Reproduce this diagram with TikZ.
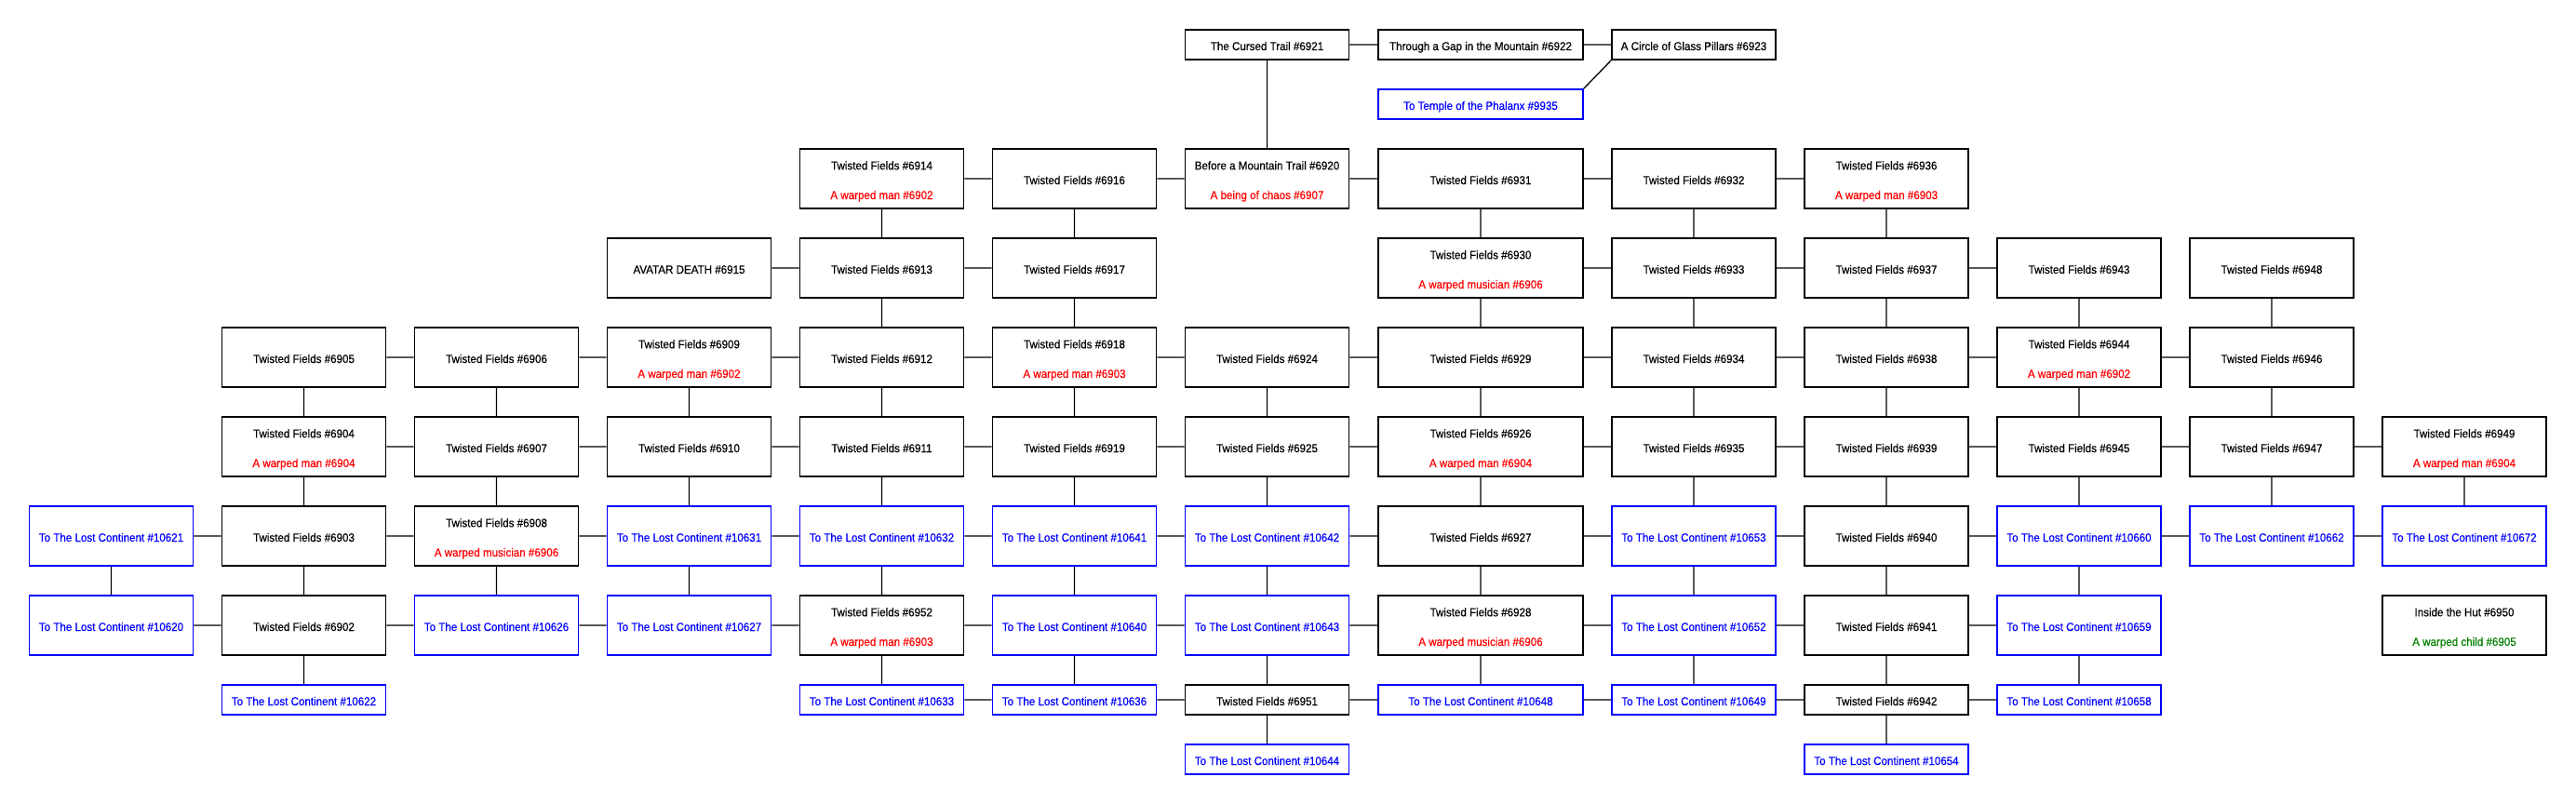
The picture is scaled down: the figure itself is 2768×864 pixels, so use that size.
\documentclass[tikz,border=0pt]{standalone}
\usepackage{fontspec}
\setmainfont{Liberation Sans}[FakeStretch=0.92, FakeBold=0.5]
\definecolor{linkblue}{RGB}{0,0,255}
\definecolor{monred}{RGB}{255,0,0}
\definecolor{npcgreen}{RGB}{0,128,0}
\tikzset{
  room/.style={draw=black, line width=1.7pt, minimum width=176pt, minimum height=64pt, inner sep=0pt, fill=white},
  link/.style={room, draw=linkblue},
  small/.style={minimum height=32pt},
  wide/.style={minimum width=220pt},
  lbl/.style={anchor=base, inner sep=0pt, font=\fontsize{12.6}{15}\selectfont},
  conn/.style={draw=black, line width=1.3pt}
}
% single-line room: name, x, y, style, colour, text
\newcommand{\rone}[6]{%
  \node[#4] (#1) at (#2,#3) {};
  \node[lbl, text=#5] (#1t) at ([yshift=-6pt]#1.center) {#6};}
% two-line room: name, x, y, style, line1, colour2, line2
\newcommand{\rtwo}[7]{%
  \node[#4] (#1) at (#2,#3) {};
  \node[lbl, text=black] (#1a) at ([yshift=9.7pt]#1.center) {#5};
  \node[lbl, text=#6] (#1b) at ([yshift=-22pt]#1.center) {#7};}
\begin{document}
\begin{tikzpicture}[x=1pt, y=-1pt]
\useasboundingbox[fill=white] (0,0) rectangle (2768,864);
% row 0
\rone{n6921}{1361.5}{48}{room,small}{black}{The Cursed Trail \#6921}
\rone{n6922}{1591}{48}{room,small,wide}{black}{Through a Gap in the Mountain \#6922}
\rone{n6923}{1820}{48}{room,small}{black}{A Circle of Glass Pillars \#6923}
\rone{l9935}{1591}{112}{link,small,wide}{linkblue}{To Temple of the Phalanx \#9935}
% row 1
\rtwo{n6914}{947.5}{192}{room}{Twisted Fields \#6914}{monred}{A warped man \#6902}
\rone{n6916}{1154.5}{192}{room}{black}{Twisted Fields \#6916}
\rtwo{n6920}{1361.5}{192}{room}{Before a Mountain Trail \#6920}{monred}{A being of chaos \#6907}
\rone{n6931}{1591}{192}{room,wide}{black}{Twisted Fields \#6931}
\rone{n6932}{1820}{192}{room}{black}{Twisted Fields \#6932}
\rtwo{n6936}{2027}{192}{room}{Twisted Fields \#6936}{monred}{A warped man \#6903}
% row 2
\rone{n6915}{740.5}{288}{room}{black}{AVATAR DEATH \#6915}
\rone{n6913}{947.5}{288}{room}{black}{Twisted Fields \#6913}
\rone{n6917}{1154.5}{288}{room}{black}{Twisted Fields \#6917}
\rtwo{n6930}{1591}{288}{room,wide}{Twisted Fields \#6930}{monred}{A warped musician \#6906}
\rone{n6933}{1820}{288}{room}{black}{Twisted Fields \#6933}
\rone{n6937}{2027}{288}{room}{black}{Twisted Fields \#6937}
\rone{n6943}{2234}{288}{room}{black}{Twisted Fields \#6943}
\rone{n6948}{2441}{288}{room}{black}{Twisted Fields \#6948}
% row 3
\rone{n6905}{326.5}{384}{room}{black}{Twisted Fields \#6905}
\rone{n6906}{533.5}{384}{room}{black}{Twisted Fields \#6906}
\rtwo{n6909}{740.5}{384}{room}{Twisted Fields \#6909}{monred}{A warped man \#6902}
\rone{n6912}{947.5}{384}{room}{black}{Twisted Fields \#6912}
\rtwo{n6918}{1154.5}{384}{room}{Twisted Fields \#6918}{monred}{A warped man \#6903}
\rone{n6924}{1361.5}{384}{room}{black}{Twisted Fields \#6924}
\rone{n6929}{1591}{384}{room,wide}{black}{Twisted Fields \#6929}
\rone{n6934}{1820}{384}{room}{black}{Twisted Fields \#6934}
\rone{n6938}{2027}{384}{room}{black}{Twisted Fields \#6938}
\rtwo{n6944}{2234}{384}{room}{Twisted Fields \#6944}{monred}{A warped man \#6902}
\rone{n6946}{2441}{384}{room}{black}{Twisted Fields \#6946}
% row 4
\rtwo{n6904}{326.5}{480}{room}{Twisted Fields \#6904}{monred}{A warped man \#6904}
\rone{n6907}{533.5}{480}{room}{black}{Twisted Fields \#6907}
\rone{n6910}{740.5}{480}{room}{black}{Twisted Fields \#6910}
\rone{n6911}{947.5}{480}{room}{black}{Twisted Fields \#6911}
\rone{n6919}{1154.5}{480}{room}{black}{Twisted Fields \#6919}
\rone{n6925}{1361.5}{480}{room}{black}{Twisted Fields \#6925}
\rtwo{n6926}{1591}{480}{room,wide}{Twisted Fields \#6926}{monred}{A warped man \#6904}
\rone{n6935}{1820}{480}{room}{black}{Twisted Fields \#6935}
\rone{n6939}{2027}{480}{room}{black}{Twisted Fields \#6939}
\rone{n6945}{2234}{480}{room}{black}{Twisted Fields \#6945}
\rone{n6947}{2441}{480}{room}{black}{Twisted Fields \#6947}
\rtwo{n6949}{2648}{480}{room}{Twisted Fields \#6949}{monred}{A warped man \#6904}
% row 5
\rone{l10621}{119.5}{576}{link}{linkblue}{To The Lost Continent \#10621}
\rone{n6903}{326.5}{576}{room}{black}{Twisted Fields \#6903}
\rtwo{n6908}{533.5}{576}{room}{Twisted Fields \#6908}{monred}{A warped musician \#6906}
\rone{l10631}{740.5}{576}{link}{linkblue}{To The Lost Continent \#10631}
\rone{l10632}{947.5}{576}{link}{linkblue}{To The Lost Continent \#10632}
\rone{l10641}{1154.5}{576}{link}{linkblue}{To The Lost Continent \#10641}
\rone{l10642}{1361.5}{576}{link}{linkblue}{To The Lost Continent \#10642}
\rone{n6927}{1591}{576}{room,wide}{black}{Twisted Fields \#6927}
\rone{l10653}{1820}{576}{link}{linkblue}{To The Lost Continent \#10653}
\rone{n6940}{2027}{576}{room}{black}{Twisted Fields \#6940}
\rone{l10660}{2234}{576}{link}{linkblue}{To The Lost Continent \#10660}
\rone{l10662}{2441}{576}{link}{linkblue}{To The Lost Continent \#10662}
\rone{l10672}{2648}{576}{link}{linkblue}{To The Lost Continent \#10672}
% row 6
\rone{l10620}{119.5}{672}{link}{linkblue}{To The Lost Continent \#10620}
\rone{n6902}{326.5}{672}{room}{black}{Twisted Fields \#6902}
\rone{l10626}{533.5}{672}{link}{linkblue}{To The Lost Continent \#10626}
\rone{l10627}{740.5}{672}{link}{linkblue}{To The Lost Continent \#10627}
\rtwo{n6952}{947.5}{672}{room}{Twisted Fields \#6952}{monred}{A warped man \#6903}
\rone{l10640}{1154.5}{672}{link}{linkblue}{To The Lost Continent \#10640}
\rone{l10643}{1361.5}{672}{link}{linkblue}{To The Lost Continent \#10643}
\rtwo{n6928}{1591}{672}{room,wide}{Twisted Fields \#6928}{monred}{A warped musician \#6906}
\rone{l10652}{1820}{672}{link}{linkblue}{To The Lost Continent \#10652}
\rone{n6941}{2027}{672}{room}{black}{Twisted Fields \#6941}
\rone{l10659}{2234}{672}{link}{linkblue}{To The Lost Continent \#10659}
\rtwo{n6950}{2648}{672}{room}{Inside the Hut \#6950}{npcgreen}{A warped child \#6905}
% row 7
\rone{l10622}{326.5}{752}{link,small}{linkblue}{To The Lost Continent \#10622}
\rone{l10633}{947.5}{752}{link,small}{linkblue}{To The Lost Continent \#10633}
\rone{l10636}{1154.5}{752}{link,small}{linkblue}{To The Lost Continent \#10636}
\rone{n6951}{1361.5}{752}{room,small}{black}{Twisted Fields \#6951}
\rone{l10648}{1591}{752}{link,small,wide}{linkblue}{To The Lost Continent \#10648}
\rone{l10649}{1820}{752}{link,small}{linkblue}{To The Lost Continent \#10649}
\rone{n6942}{2027}{752}{room,small}{black}{Twisted Fields \#6942}
\rone{l10658}{2234}{752}{link,small}{linkblue}{To The Lost Continent \#10658}
% row 8
\rone{l10644}{1361.5}{816}{link,small}{linkblue}{To The Lost Continent \#10644}
\rone{l10654}{2027}{816}{link,small}{linkblue}{To The Lost Continent \#10654}
% connectors
\path[conn]
  (n6921) -- (n6922) (n6922) -- (n6923) (n6921) -- (n6920)
  (n6923.south west) -- (l9935.north east)
  (n6914) -- (n6916) (n6916) -- (n6920) (n6920) -- (n6931) (n6931) -- (n6932) (n6932) -- (n6936)
  (n6914) -- (n6913) (n6916) -- (n6917) (n6931) -- (n6930) (n6932) -- (n6933) (n6936) -- (n6937)
  (n6915) -- (n6913) (n6913) -- (n6917) (n6930) -- (n6933) (n6933) -- (n6937) (n6937) -- (n6943)
  (n6913) -- (n6912) (n6917) -- (n6918) (n6930) -- (n6929) (n6933) -- (n6934) (n6937) -- (n6938) (n6943) -- (n6944) (n6948) -- (n6946)
  (n6905) -- (n6906) (n6906) -- (n6909) (n6909) -- (n6912) (n6912) -- (n6918) (n6918) -- (n6924) (n6924) -- (n6929) (n6929) -- (n6934) (n6934) -- (n6938) (n6938) -- (n6944) (n6944) -- (n6946)
  (n6905) -- (n6904) (n6906) -- (n6907) (n6909) -- (n6910) (n6912) -- (n6911) (n6918) -- (n6919) (n6924) -- (n6925) (n6929) -- (n6926) (n6934) -- (n6935) (n6938) -- (n6939) (n6944) -- (n6945) (n6946) -- (n6947)
  (n6904) -- (n6907) (n6907) -- (n6910) (n6910) -- (n6911) (n6911) -- (n6919) (n6919) -- (n6925) (n6925) -- (n6926) (n6926) -- (n6935) (n6935) -- (n6939) (n6939) -- (n6945) (n6945) -- (n6947) (n6947) -- (n6949)
  (n6904) -- (n6903) (n6907) -- (n6908) (n6910) -- (l10631) (n6911) -- (l10632) (n6919) -- (l10641) (n6925) -- (l10642) (n6926) -- (n6927) (n6935) -- (l10653) (n6939) -- (n6940) (n6945) -- (l10660) (n6947) -- (l10662) (n6949) -- (l10672)
  (l10621) -- (n6903) (n6903) -- (n6908) (n6908) -- (l10631) (l10631) -- (l10632) (l10632) -- (l10641) (l10641) -- (l10642) (l10642) -- (n6927) (n6927) -- (l10653) (l10653) -- (n6940) (n6940) -- (l10660) (l10660) -- (l10662) (l10662) -- (l10672)
  (l10621) -- (l10620) (n6903) -- (n6902) (n6908) -- (l10626) (l10631) -- (l10627) (l10632) -- (n6952) (l10641) -- (l10640) (l10642) -- (l10643) (n6927) -- (n6928) (l10653) -- (l10652) (n6940) -- (n6941) (l10660) -- (l10659)
  (l10620) -- (n6902) (n6902) -- (l10626) (l10626) -- (l10627) (l10627) -- (n6952) (n6952) -- (l10640) (l10640) -- (l10643) (l10643) -- (n6928) (n6928) -- (l10652) (l10652) -- (n6941) (n6941) -- (l10659)
  (n6902) -- (l10622) (n6952) -- (l10633) (l10640) -- (l10636) (l10643) -- (n6951) (n6928) -- (l10648) (l10652) -- (l10649) (n6941) -- (n6942) (l10659) -- (l10658)
  (l10633) -- (l10636) (l10636) -- (n6951) (n6951) -- (l10648) (l10648) -- (l10649) (l10649) -- (n6942) (n6942) -- (l10658)
  (n6951) -- (l10644) (n6942) -- (l10654);
\end{tikzpicture}
\end{document}
